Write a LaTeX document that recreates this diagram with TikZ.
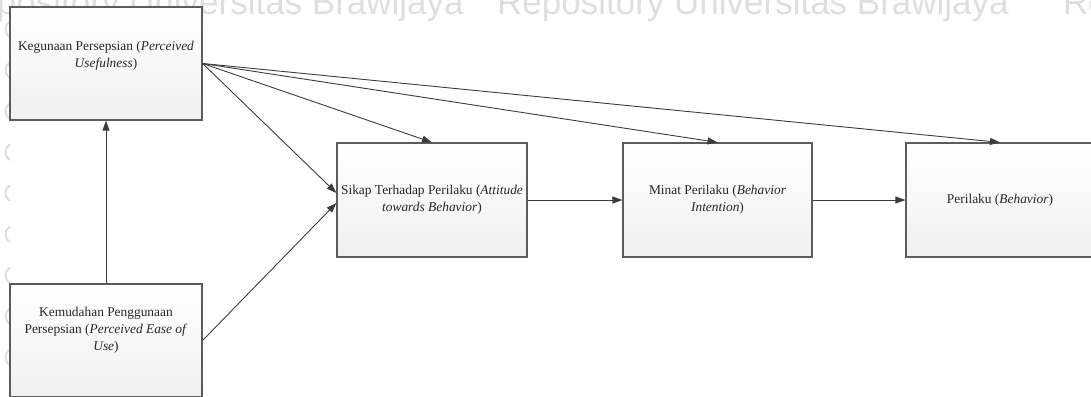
\documentclass[tikz,border=0pt]{standalone}
\usepackage{fontspec}
\setmainfont{Liberation Serif}
\newfontfamily\wmfont{Liberation Sans}
\usetikzlibrary{arrows.meta,calc,shadows}
\definecolor{edgegray}{HTML}{5C5C5C}
\definecolor{linegray}{HTML}{3C3C3C}
\definecolor{wmgray}{HTML}{DEDEDE}
\definecolor{textgray}{HTML}{262626}
\begin{document}
\begin{tikzpicture}[x=1pt,y=-1pt,
  box/.style={rectangle, draw=edgegray, line width=1.2pt, inner sep=0pt,
    top color=white, bottom color=black!6, align=center, text=textgray,
    font=\fontsize{13.4}{17}\selectfont,
    drop shadow={shadow xshift=1pt, shadow yshift=-1.2pt, opacity=.25, fill=black!50}},
  boxtext/.style={align=center, text=textgray, inner sep=0pt,
    font=\fontsize{13.4}{17}\selectfont},
  arr/.style={draw=linegray, line width=0.9pt,
    -{Triangle[length=10pt,width=7pt]}},
  wm/.style={text=wmgray, inner sep=0pt, font=\wmfont\fontsize{35}{35}\selectfont},
  wmarc/.style={draw=wmgray, line width=2pt}
]
\useasboundingbox (0,0) rectangle (1091,396);
\clip (0,0) rectangle (1091,396);

% faint repository marks along the top and left margin
\node[wm, anchor=base west] (wmone) at (-48,15) {Repository Universitas Brawijaya};
\node[wm, anchor=base west] (wmtwo) at (497,15) {Repository Universitas Brawijaya};
\node[wm, anchor=base west] (wmthree) at (1063,15) {Repository Universitas Brawijaya};
\foreach \yy in {45,86,127,168,209,250,291,332,373}
  \draw[wmarc] (10,\yy-8) arc[start angle=120, end angle=240, radius=9];

% boxes
\node[box, minimum width=192pt, minimum height=113pt] (use) at (106,63.5) {};
\node[boxtext] (usetext) at (106,55.5)
  {Kegunaan Persepsian (\textit{Perceived}\\\textit{Usefulness})};

\node[box, minimum width=192pt, minimum height=113pt] (ease) at (106,340.5) {};
\node[boxtext] (easetext) at (106,330)
  {Kemudahan Penggunaan\\Persepsian (\textit{Perceived Ease of}\\\textit{Use})};

\node[box, minimum width=190pt, minimum height=114pt] (att) at (432,200)
  {Sikap Terhadap Perilaku (\textit{Attitude}\\\textit{towards Behavior})};
\node[box, minimum width=189pt, minimum height=114pt] (intent) at (717.5,200)
  {Minat Perilaku (\textit{Behavior}\\\textit{Intention})};
\node[box, minimum width=188pt, minimum height=114pt] (behav) at (1000,200)
  {Perilaku (\textit{Behavior})};

% connectors
\draw[arr] (ease.north) -- (use.south);
\draw[arr] (use.east) -- ($(att.west)+(0,-7)$);
\draw[arr] (use.east) -- (att.north);
\draw[arr] (use.east) -- (intent.north);
\draw[arr] (use.east) -- (behav.north);
\draw[arr] (ease.east) -- ($(att.west)+(0,3)$);
\draw[arr] (att.east) -- (intent.west);
\draw[arr] (intent.east) -- (behav.west);
\end{tikzpicture}
\end{document}
